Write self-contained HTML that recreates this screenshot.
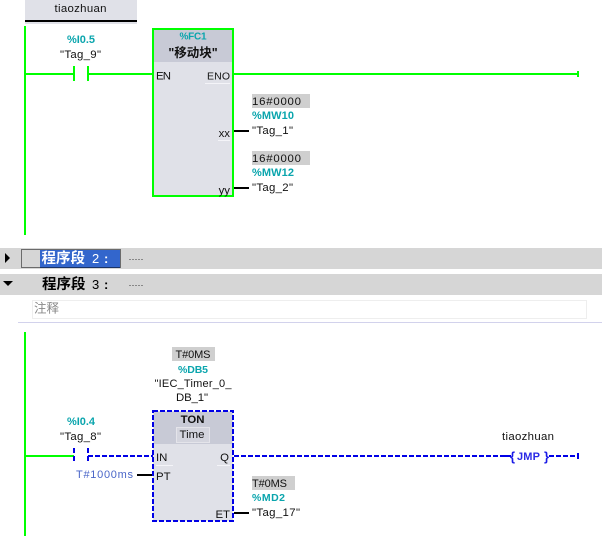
<!DOCTYPE html>
<html><head><meta charset="utf-8"><style>
html,body{margin:0;padding:0;background:#fff;width:602px;height:536px;overflow:hidden}
svg{display:block}
text{font-family:"Liberation Sans","Noto Sans CJK SC",sans-serif;font-size:11.400px;fill:#111}
.c{fill:#0aa5ad;font-weight:bold;font-size:11px}
.n{font-size:11px}
.m{text-anchor:middle}
.e{text-anchor:end}
</style></head><body>
<svg width="602" height="536" viewBox="0 0 602 536" xmlns="http://www.w3.org/2000/svg">
<!-- top label -->
<rect x="25" y="0" width="112" height="24" fill="#e0e1e8"/>
<rect x="25" y="20" width="112" height="2" fill="#000"/>
<text x="80.500" y="12" class="m" textLength="52">tiaozhuan</text>
<!-- rung 1 -->
<rect x="24" y="26" width="2" height="209" fill="#00ff00"/>
<rect x="25" y="73" width="49" height="2" fill="#00ff00"/>
<rect x="73" y="66" width="2" height="15" fill="#00ff00"/>
<rect x="87" y="66" width="2" height="15" fill="#00ff00"/>
<rect x="88" y="73" width="65" height="2" fill="#00ff00"/>
<rect x="233" y="73" width="345" height="2" fill="#00ff00"/>
<rect x="577" y="71" width="2" height="6" fill="#00ff00"/>
<text x="81" y="43" class="c m" textLength="28">%I0.5</text>
<text x="80.500" y="58" class="m" textLength="41">"Tag_9"</text>
<!-- FC1 block -->
<rect x="153" y="29" width="80" height="167" fill="#e0e1e8" stroke="#00ff00" stroke-width="2"/>
<rect x="154" y="30" width="78" height="32" fill="#c8cad6"/>
<text x="193" y="39.500" class="c m" textLength="27" style="font-size:10px">%FC1</text>
<text x="193" y="57" class="m" style="font-weight:bold;font-size:12.500px">"移动块"</text>
<text x="156" y="79.500" textLength="15">EN</text>
<text x="230" y="79.500" class="e" textLength="23" style="font-size:10.500px">ENO</text>
<rect x="205" y="83" width="25" height="1" fill="#f4f4f8"/>
<text x="230" y="137" class="e">xx</text>
<rect x="218" y="140" width="12" height="1" fill="#f4f4f8"/>
<text x="230" y="194" class="e">yy</text>
<rect x="234" y="130" width="15" height="2" fill="#000"/>
<rect x="234" y="187" width="15" height="2" fill="#000"/>
<rect x="252" y="94" width="58" height="14" fill="#cfcfcf"/>
<text x="252" y="105" textLength="49">16#0000</text>
<text x="252" y="119" class="c" textLength="42">%MW10</text>
<text x="252" y="134" textLength="41">"Tag_1"</text>
<rect x="252" y="151" width="58" height="14" fill="#cfcfcf"/>
<text x="252" y="162" textLength="49">16#0000</text>
<text x="252" y="176" class="c" textLength="42">%MW12</text>
<text x="252" y="191" textLength="41">"Tag_2"</text>
<!-- section bars -->
<rect x="0" y="248" width="602" height="21" fill="#d6d6d6"/>
<rect x="0" y="274" width="602" height="21" fill="#d6d6d6"/>
<rect x="40" y="250" width="80" height="18" fill="#3366cc"/>
<path d="M21.500 249.500H120.500V267.500H21.500Z" fill="none" stroke="#000" stroke-width="1" stroke-dasharray="1 1"/>
<polygon points="5,253 5,263 10,258" fill="#000"/>
<polygon points="3,281 13,281 8,286" fill="#000"/>
<text x="41.500" y="263" style="font-size:14.500px;font-weight:bold;fill:#fff">程序段</text>
<text x="92" y="263" style="font-size:13px;fill:#fff">2</text>
<text x="104" y="263" style="font-size:13px;font-weight:bold;fill:#fff">:</text>
<text x="42" y="289" style="font-size:14.500px;font-weight:bold;fill:#000">程序段</text>
<text x="92" y="289" style="font-size:13px;fill:#000">3</text>
<text x="104" y="289" style="font-size:13px;font-weight:bold;fill:#000">:</text>
<path d="M129 259.500H143M129 285.500H143" stroke="#888" stroke-width="1" stroke-dasharray="2 1" fill="none"/>
<!-- comment -->
<rect x="32.500" y="300.500" width="554" height="18" fill="#fff" stroke="#eeeeee"/>
<text x="34" y="312.500" style="font-size:12.500px;fill:#888">注释</text>
<rect x="18" y="322" width="584" height="1" fill="#d2d2ec"/>
<!-- rung 2 -->
<rect x="24" y="332" width="2" height="204" fill="#00ff00"/>
<rect x="25" y="455" width="49" height="2" fill="#00ff00"/>
<path d="M74 448V463M88 448V463" stroke="#0000e6" stroke-width="2" stroke-dasharray="5 3" fill="none"/>
<path d="M88 456H153" stroke="#0000e6" stroke-width="2" stroke-dasharray="5 2" fill="none"/>
<path d="M234 456H500" stroke="#0000e6" stroke-width="2" stroke-dasharray="5 2" fill="none"/>
<path d="M500 456H511" stroke="#0000e6" stroke-width="2" fill="none"/>
<path d="M549 456H578" stroke="#0000e6" stroke-width="2" stroke-dasharray="5 2" fill="none"/>
<rect x="577" y="453" width="2" height="6" fill="#0000e6"/>
<text x="81" y="425" class="c m" textLength="28">%I0.4</text>
<text x="80.500" y="440" class="m" textLength="41">"Tag_8"</text>
<rect x="172" y="347" width="43" height="14" fill="#cfcfcf"/>
<text x="193" y="358" class="m n" textLength="35">T#0MS</text>
<text x="193" y="373" class="c m" textLength="30" style="font-size:10.500px">%DB5</text>
<text x="193" y="387" class="m n" textLength="77">"IEC_Timer_0_</text>
<text x="192" y="401" class="m" textLength="32">DB_1"</text>
<!-- TON block -->
<rect x="153" y="411" width="80" height="110" fill="#e0e1e8"/>
<rect x="154" y="412" width="78" height="32" fill="#c8cad6"/>
<rect x="153" y="411" width="80" height="110" fill="none" stroke="#0000e6" stroke-width="2" stroke-dasharray="5 2"/>
<text x="192.500" y="423" class="m" style="font-weight:bold">TON</text>
<rect x="176.500" y="427.500" width="33" height="15" fill="#d4d5de" stroke="#e4e4ea"/>
<text x="192" y="438" class="m">Time</text>
<text x="156" y="461">IN</text>
<text x="229" y="461" class="e">Q</text>
<rect x="156" y="465" width="17" height="1" fill="#f4f4f8"/>
<rect x="217" y="465" width="13" height="1" fill="#f4f4f8"/>
<text x="156" y="480">PT</text>
<text x="230" y="518" class="e">ET</text>
<rect x="137" y="474" width="15" height="2" fill="#000"/>
<rect x="234" y="512" width="15" height="2" fill="#000"/>
<text x="76" y="478" textLength="57" class="n" style="fill:#4a66c8">T#1000ms</text>
<rect x="252" y="476" width="43" height="14" fill="#cfcfcf"/>
<text x="252" y="487" textLength="35" class="n">T#0MS</text>
<text x="252" y="501" class="c" textLength="33" style="font-size:10.500px">%MD2</text>
<text x="252" y="516" textLength="48">"Tag_17"</text>
<!-- JMP -->
<text x="502" y="440" textLength="52">tiaozhuan</text>
<text x="510" y="461" style="font-size:13px;font-weight:bold;fill:#1a1ae6">{</text>
<text x="517" y="460" textLength="23" style="font-weight:bold;font-size:11px;fill:#2a2ae6">JMP</text>
<text x="544" y="461" style="font-size:13px;font-weight:bold;fill:#1a1ae6">}</text>
</svg>
</body></html>
